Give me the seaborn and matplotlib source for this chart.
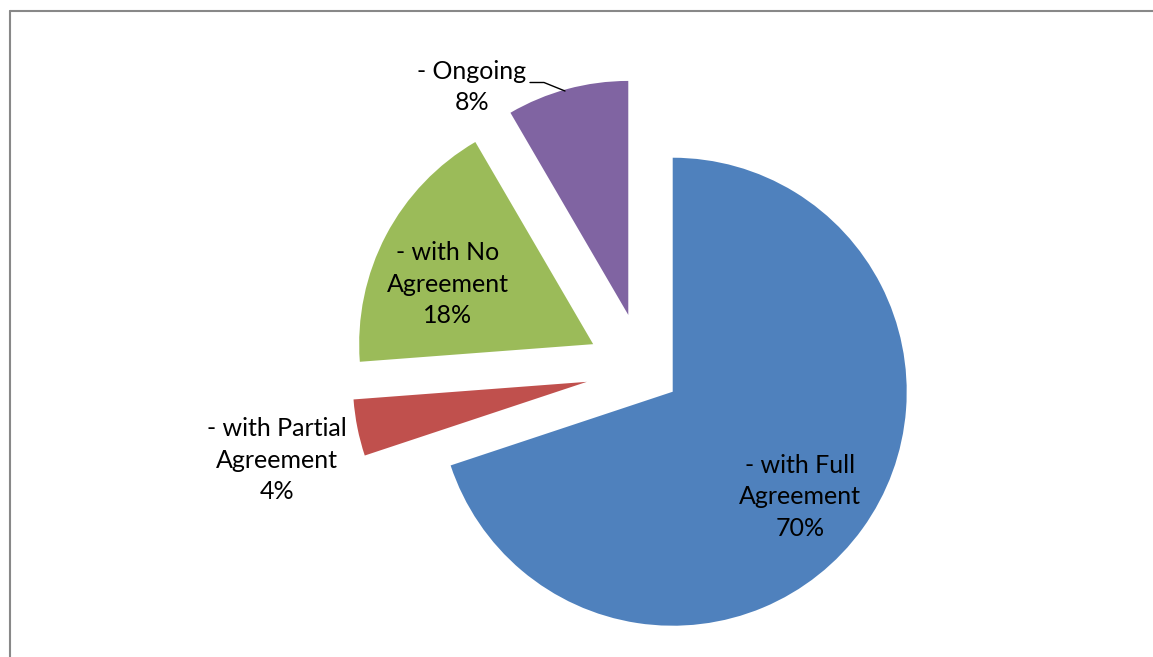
import matplotlib
matplotlib.use("Agg")
import matplotlib.pyplot as plt
import seaborn as sns
from matplotlib.lines import Line2D

# ---- data ----
categories = ["- with Full\nAgreement", "- with Partial\nAgreement", "- with No\nAgreement", "- Ongoing"]
shares = [69.9, 3.9, 17.8, 8.4]          # (labels show rounded %)
colors = ["#4F81BD", "#C0504D", "#9BBB59", "#8064A2"]
explode = [0.155, 0.246, 0.242, 0.246]   # fraction of radius

sns.set_theme(style="white")
plt.rcParams['font.family'] = ['Lato', 'DejaVu Sans']

W, H = 1153, 657
fig = plt.figure(figsize=(W / 100, H / 100), dpi=100)
ax = fig.add_axes([0, 0, 1, 1])

cx, cy = 643.3, H - 370.5
R = 234
wedges, _ = ax.pie(shares, colors=colors, explode=[e * R for e in explode], startangle=90,
                   counterclock=False, radius=R, center=(cx, cy),
                   wedgeprops=dict(linewidth=0))
ax.set_xlim(0, W)
ax.set_ylim(0, H)
ax.set_aspect('equal')
ax.axis('off')

# label positions (pixel coords, y from top)
label_pos = [(800, 497), (277, 460), (448, 284), (472, 87)]
for cat, s, (x, y) in zip(categories, shares, label_pos):
    ax.text(x, H - y, f"{cat}\n{round(s)}%", ha='center', va='center', fontsize=18,
            color='black', linespacing=1.43)

# leader line for the Ongoing label
ax.plot([530, 544, 565], [H - 82.5, H - 82.5, H - 91], color='black', lw=1.0)

# chart border (Excel style)
bx = 10.5 / W
by = (H - 11) / H
fig.add_artist(Line2D([bx, bx], [by, 0], transform=fig.transFigure, color='#888888', lw=1.5))
fig.add_artist(Line2D([bx, 1], [by, by], transform=fig.transFigure, color='#888888', lw=1.5))

fig.savefig("out.png", dpi=100)
